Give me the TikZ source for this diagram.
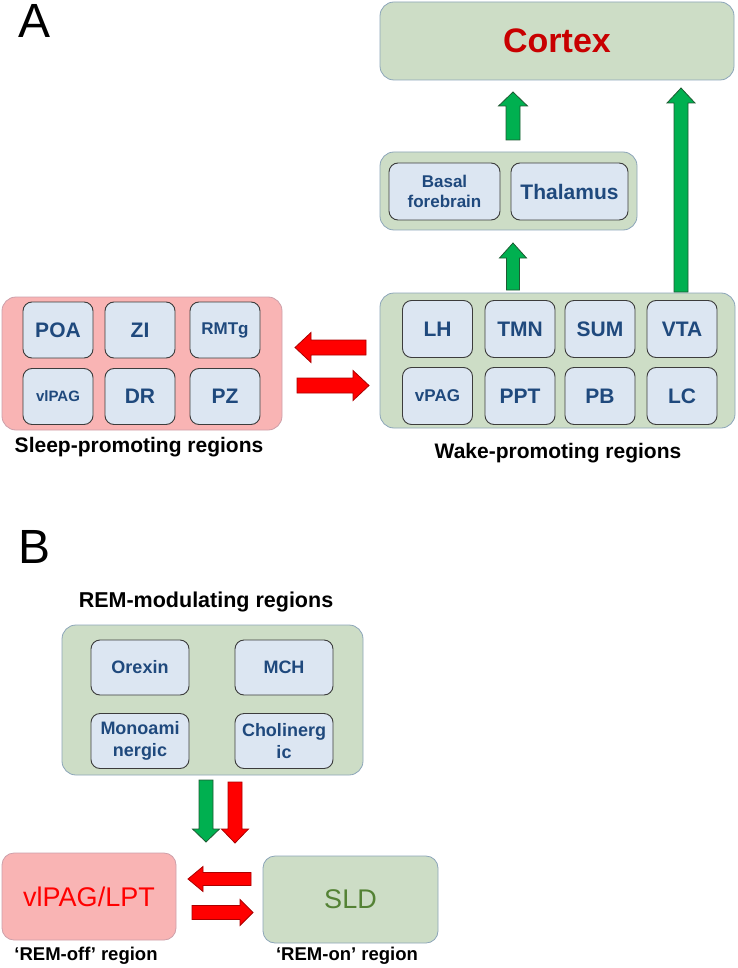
\documentclass[tikz,border=0pt]{standalone}
\usepackage{fontspec}
\setmainfont{Liberation Sans}
\usetikzlibrary{calc}
\definecolor{greenfill}{RGB}{205,221,198}
\definecolor{outerborder}{RGB}{140,165,185}
\definecolor{innerfill}{RGB}{220,230,242}
\definecolor{innerborder}{RGB}{60,60,60}
\definecolor{textblue}{RGB}{31,73,125}
\definecolor{pinkfill}{RGB}{249,180,180}
\definecolor{pinkborder}{RGB}{205,160,170}
\definecolor{arrowgreen}{RGB}{0,176,80}
\definecolor{arrowgreenline}{RGB}{30,90,50}
\definecolor{arrowred}{RGB}{255,0,0}
\definecolor{arrowredline}{RGB}{170,0,0}
\definecolor{cortexred}{RGB}{200,0,0}
\definecolor{sldgreen}{RGB}{84,130,53}
\newcommand\blockarrow[6]{%
  \coordinate (ba-t) at (#2);
  \coordinate (ba-h) at ($(#3)!#6!(#2)$);
  \draw[#1] ($(ba-t)!#4!90:(#3)$) -- ($(ba-h)!#4!90:(#3)$) -- ($(ba-h)!#5!90:(#3)$) -- (#3)
    -- ($(ba-h)!#5!-90:(#3)$) -- ($(ba-h)!#4!-90:(#3)$) -- ($(ba-t)!#4!-90:(#3)$) -- cycle;}
\tikzset{
  outerbox/.style={draw=outerborder, line width=0.8pt, rounded corners=14pt, inner sep=0pt},
  greenbox/.style={outerbox, fill=greenfill},
  pinkbox/.style={outerbox, draw=pinkborder, fill=pinkfill},
  innerbox/.style={draw=innerborder, line width=0.9pt, fill=innerfill, rounded corners=9pt,
    inner sep=0pt, text=textblue, align=center, font=\bfseries\fontsize{21}{24}\selectfont},
  cell/.style={innerbox, minimum width=70pt, minimum height=57pt},
  remcell/.style={innerbox, minimum width=98pt, minimum height=55pt, font=\bfseries\fontsize{18}{22}\selectfont},
  caption/.style={font=\bfseries\fontsize{21}{24}\selectfont, inner sep=0pt},
  panel/.style={font=\fontsize{48}{50}\selectfont, inner sep=0pt},
  garrow/.style={fill=arrowgreen, draw=arrowgreenline, line width=0.8pt, line join=miter},
  rarrow/.style={fill=arrowred, draw=arrowredline, line width=0.8pt, line join=miter},
}
\begin{document}
\begin{tikzpicture}[x=1pt, y=-1pt]
\useasboundingbox (0,0) rectangle (737,968);
% Panel A
\node[panel] (A) at (35,21) {A};
\node[greenbox, minimum width=354pt, minimum height=78pt, text=cortexred,
  font=\bfseries\fontsize{34}{38}\selectfont] (cortex) at (557,41) {Cortex};
\node[greenbox, minimum width=257pt, minimum height=78pt] (relay) at (508.5,191) {};
\node[innerbox, minimum width=111pt, minimum height=57pt, font=\bfseries\fontsize{17}{20}\selectfont]
  (basal) at (444.5,191.5) {Basal\\forebrain};
\node[innerbox, minimum width=117pt, minimum height=57pt] (thal) at (569.5,191.5) {Thalamus};
% Wake-promoting
\node[greenbox, minimum width=355pt, minimum height=135pt] (wake) at (557.5,360.5) {};
\node[cell] (LH) at (437.5,329) {LH};
\node[cell] (TMN) at (520,329) {TMN};
\node[cell] (SUM) at (600,329) {SUM};
\node[cell] (VTA) at (682,329) {VTA};
\node[cell, font=\bfseries\fontsize{17}{20}\selectfont] (vPAG) at (437.5,396) {vPAG};
\node[cell] (PPT) at (520,396) {PPT};
\node[cell] (PB) at (600,396) {PB};
\node[cell] (LC) at (682,396) {LC};
\node[caption] (wakelab) at (558,453) {Wake-promoting regions};
% Sleep-promoting
\node[pinkbox, minimum width=280pt, minimum height=133pt] (sleep) at (142,363.5) {};
\node[cell, minimum height=56pt] (POA) at (58,330) {POA};
\node[cell, minimum height=56pt] (ZI) at (140,330) {ZI};
\node[cell, minimum height=56pt, font=\bfseries\fontsize{17}{20}\selectfont] (RMTg) at (225,330) {RMTg};
\node[cell, minimum height=56pt, font=\bfseries\fontsize{15}{18}\selectfont] (vlPAG) at (58,396.5) {vlPAG};
\node[cell, minimum height=56pt] (DR) at (140,396.5) {DR};
\node[cell, minimum height=56pt] (PZ) at (225,396.5) {PZ};
\node[caption] (sleeplab) at (139,447) {Sleep-promoting regions};
% Panel A arrows
\coordinate (g1t) at (513,140); \coordinate (g1h) at (513,92);
\coordinate (g2t) at (681,292); \coordinate (g2h) at (681,88);
\coordinate (g3t) at (513,290); \coordinate (g3h) at (513,243);
\blockarrow{garrow}{g1t}{g1h}{7pt}{14.5pt}{14pt}
\blockarrow{garrow}{g2t}{g2h}{7pt}{14pt}{15pt}
\blockarrow{garrow}{g3t}{g3h}{6.5pt}{13.5pt}{15pt}
\coordinate (r1t) at (366,347.5); \coordinate (r1h) at (295,347.5);
\coordinate (r2t) at (297,385.5); \coordinate (r2h) at (369,385.5);
\blockarrow{rarrow}{r1t}{r1h}{7.5pt}{15pt}{16pt}
\blockarrow{rarrow}{r2t}{r2h}{7.5pt}{15pt}{16pt}
% Panel B
\node[panel] (B) at (35,547) {B};
\node[caption, font=\bfseries\fontsize{21.5}{24}\selectfont] (remlab) at (206,602) {REM-modulating regions};
\node[greenbox, minimum width=301pt, minimum height=150pt] (rem) at (212.5,700) {};
\node[remcell] (orexin) at (140,667.5) {Orexin};
\node[remcell] (mch) at (284,667.5) {MCH};
\node[remcell] (mono) at (140,741) {Monoami\\nergic};
\node[remcell] (chol) at (284,741) {Cholinerg\\ic};
\coordinate (d1t) at (206,780); \coordinate (d1h) at (206,842);
\coordinate (d2t) at (235,782); \coordinate (d2h) at (235,843);
\blockarrow{garrow}{d1t}{d1h}{7pt}{13.5pt}{13pt}
\blockarrow{rarrow}{d2t}{d2h}{7pt}{13.5pt}{14pt}
\node[pinkbox, rounded corners=12pt, minimum width=174pt, minimum height=87pt, text=arrowred,
  font=\fontsize{27}{30}\selectfont] (off) at (89,896.5) {vlPAG/LPT};
\node[greenbox, rounded corners=12pt, minimum width=175pt, minimum height=87pt, text=sldgreen,
  font=\fontsize{27}{30}\selectfont] (on) at (350.5,899.5) {SLD};
\node[caption, font=\bfseries\fontsize{18.5}{22}\selectfont] (offlab) at (86,956) {‘REM-off’ region};
\node[caption, font=\bfseries\fontsize{18.5}{22}\selectfont] (onlab) at (347,956) {‘REM-on’ region};
\coordinate (b1t) at (251,879); \coordinate (b1h) at (188,879);
\coordinate (b2t) at (192,912.5); \coordinate (b2h) at (253,912.5);
\blockarrow{rarrow}{b1t}{b1h}{6.5pt}{12.5pt}{15pt}
\blockarrow{rarrow}{b2t}{b2h}{7pt}{13pt}{13pt}
\end{tikzpicture}
\end{document}
